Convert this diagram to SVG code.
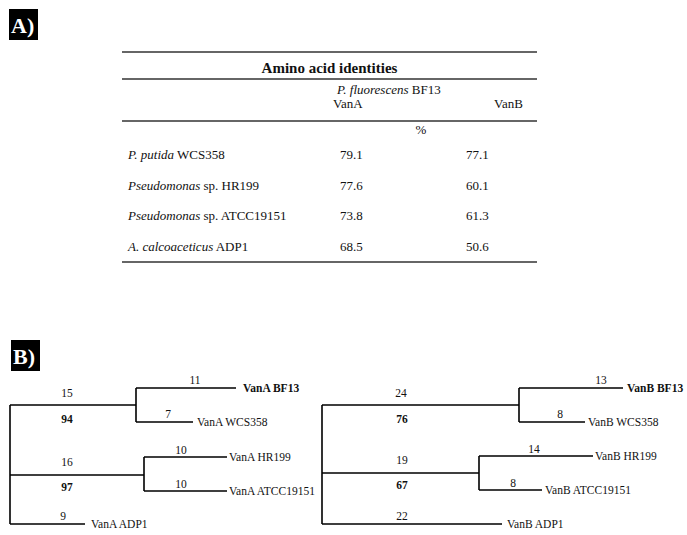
<svg xmlns="http://www.w3.org/2000/svg" width="687" height="535" viewBox="0 0 687 535">
<style>
text{font-family:"Liberation Serif","Times New Roman",serif;fill:#111}
.t{font-size:13px}
.n{font-size:11.5px}
.b{font-weight:bold}
.i{font-style:italic}
.m{text-anchor:middle}
.rule{stroke:#333;stroke-width:1.3}
.br{stroke:#000;stroke-width:1.6;fill:none}
.lab{font-size:22px;font-weight:bold;fill:#fff}
</style>
<rect width="687" height="535" fill="#fff"/>
<g id="panelA">
  <rect x="9" y="9" width="29" height="31" fill="#000"/>
  <text class="lab" x="11" y="33">A)</text>
  <g id="table">
    <line class="rule" x1="122" y1="52" x2="537" y2="52"/>
    <text class="b m" x="329.5" y="73" style="font-size:15px">Amino acid identities</text>
    <line class="rule" x1="122" y1="79" x2="537" y2="79"/>
    <text class="t" x="337" y="94"><tspan class="i">P. fluorescens</tspan> BF13</text>
    <text class="t" x="333" y="108">VanA</text>
    <text class="t" x="494" y="108">VanB</text>
    <line class="rule" x1="122" y1="121" x2="537" y2="121"/>
    <text class="t m" x="421" y="134">%</text>
    <text class="t" x="128" y="159"><tspan class="i">P. putida</tspan> WCS358</text>
    <text class="t" x="128" y="190"><tspan class="i">Pseudomonas</tspan> sp. HR199</text>
    <text class="t" x="128" y="220"><tspan class="i">Pseudomonas</tspan> sp. ATCC19151</text>
    <text class="t" x="128" y="251"><tspan class="i">A. calcoaceticus</tspan> ADP1</text>
    <text class="t" x="340" y="159">79.1</text>
    <text class="t" x="340" y="190">77.6</text>
    <text class="t" x="340" y="220">73.8</text>
    <text class="t" x="340" y="251">68.5</text>
    <text class="t" x="466" y="159">77.1</text>
    <text class="t" x="466" y="190">60.1</text>
    <text class="t" x="466" y="220">61.3</text>
    <text class="t" x="466" y="251">50.6</text>
    <line class="rule" x1="122" y1="262" x2="537" y2="262"/>
  </g>
</g>
<g id="panelB">
  <rect x="11" y="340" width="29" height="31" fill="#000"/>
  <text class="lab" x="13" y="364">B)</text>
</g>
<g id="connectors">
  <path class="br" d="M10,405V524M10,405H136M10,475H144M10,524H85M136,388V422M136,388H236M136,422H193M144,457V491M144,457H227M144,491H227"/>
  <path class="br" d="M322,405V524M322,405H519M322,473H479M322,524H502M519,388V422M519,388H623M519,422H585M479,456V490M479,456H593M479,490H542"/>
</g>
<g id="treeA">
  <text class="n m" x="67" y="397">15</text>
  <text class="n m b" x="67" y="423">94</text>
  <text class="n m" x="195" y="384">11</text>
  <text class="n m" x="168" y="418">7</text>
  <text class="n m" x="67" y="466">16</text>
  <text class="n m b" x="67" y="491">97</text>
  <text class="n m" x="181" y="454">10</text>
  <text class="n m" x="181" y="488">10</text>
  <text class="n m" x="63" y="520">9</text>
  <text class="n b" x="243" y="392">VanA BF13</text>
  <text class="n" x="197" y="426">VanA WCS358</text>
  <text class="n" x="229" y="461">VanA HR199</text>
  <text class="n" x="229" y="495">VanA ATCC19151</text>
  <text class="n" x="91" y="528">VanA ADP1</text>
</g>
<g id="treeB">
  <text class="n m" x="401" y="397">24</text>
  <text class="n m b" x="402" y="423">76</text>
  <text class="n m" x="601" y="384">13</text>
  <text class="n m" x="560" y="418">8</text>
  <text class="n m" x="402" y="464">19</text>
  <text class="n m b" x="402" y="489">67</text>
  <text class="n m" x="534" y="453">14</text>
  <text class="n m" x="513" y="487">8</text>
  <text class="n m" x="402" y="520">22</text>
  <text class="n b" x="627" y="392">VanB BF13</text>
  <text class="n" x="588" y="426">VanB WCS358</text>
  <text class="n" x="595" y="460">VanB HR199</text>
  <text class="n" x="545" y="494">VanB ATCC19151</text>
  <text class="n" x="507" y="528">VanB ADP1</text>
</g>
</svg>
